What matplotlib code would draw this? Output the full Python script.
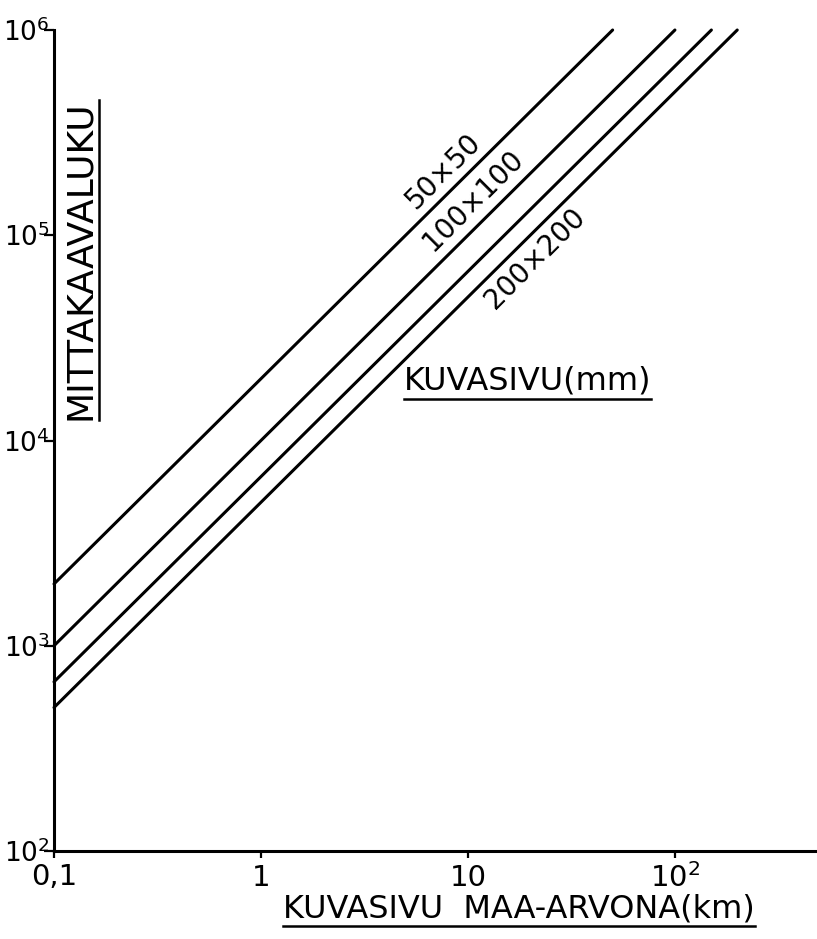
import numpy as np
import matplotlib
matplotlib.use("Agg")
import matplotlib.pyplot as plt
from matplotlib.lines import Line2D

# image side (mm) and the straight lines in log-log space (start / end points)
image_sides = [50, 100, 150, 200]
side_labels = ["50×50", "100×100", None, "200×200"]
x_start = [0.1, 0.1, 0.1, 0.1]            # ground side, km
x_end = [50, 100, 150, 200]
scale_start = [2000, 1000, 667, 500]      # map scale number
scale_end = [1e6, 1e6, 1e6, 1e6]

x_ticks = [0.1, 1, 10, 100]
x_ticklabels = ["0,1", "1", "10", "$10^2$"]
y_ticks = [1e2, 1e3, 1e4, 1e5, 1e6]
y_ticklabels = ["$10^%d$" % e for e in range(2, 7)]

plt.rcParams["font.family"] = ["DejaVu Sans"]
plt.rcParams["mathtext.default"] = "regular"
FS = 21
LW = 2.2

W, H = 817, 939
fig = plt.figure(figsize=(W / 100, H / 100), dpi=100)
ax = fig.add_axes([54 / W, (H - 851) / H, 761 / W, 821 / H])
ax.set_xscale("log")
ax.set_yscale("log")
ax.set_xlim(0.1, 475)
ax.set_ylim(1e2, 1e6)

for i in range(len(image_sides)):
    ax.plot([x_start[i], x_end[i]], [scale_start[i], scale_end[i]],
            color="black", lw=LW, solid_capstyle="round", clip_on=False)

# labels sit beside their line, rotated along it
label_x = [7.6, 10.6, None, 21]
label_off = [19, 21, None, -20]   # points, vertical
for i, lab in enumerate(side_labels):
    if lab is None:
        continue
    t = np.log10(label_x[i] / x_start[i]) / np.log10(x_end[i] / x_start[i])
    y = 10 ** (np.log10(scale_start[i]) + t * np.log10(scale_end[i] / scale_start[i]))
    ax.annotate(lab, (label_x[i], y), xytext=(0, label_off[i]),
                textcoords="offset points", ha="center", va="center",
                rotation=45, rotation_mode="anchor", fontsize=FS - 1)

ax.spines["top"].set_visible(False)
ax.spines["right"].set_visible(False)
for s in ("left", "bottom"):
    ax.spines[s].set_linewidth(LW)

ax.set_xticks(x_ticks)
ax.set_xticklabels(x_ticklabels, fontsize=FS)
ax.set_yticks(y_ticks)
ax.set_yticklabels(y_ticklabels, fontsize=19)
ax.minorticks_off()
ax.tick_params(axis="x", direction="out", length=5, width=1.6, pad=4)
ax.tick_params(axis="y", direction="out", length=7, width=1.6, pad=-4)


def underline(txt, gap=4, vertical=False):
    fig.canvas.draw()
    bb = txt.get_window_extent(renderer=fig.canvas.get_renderer())
    if vertical:
        xs = [bb.x1 + gap, bb.x1 + gap]
        ys = [bb.y0, bb.y1]
    else:
        xs = [bb.x0, bb.x1]
        ys = [bb.y0 - gap, bb.y0 - gap]
    fig.add_artist(Line2D([x / W for x in xs], [y / H for y in ys],
                          color="black", lw=1.8))


xl = fig.text(519 / W, 1 - 909 / H, "KUVASIVU  MAA-ARVONA(km)",
              ha="center", va="center", fontsize=23)
yl = fig.text(80 / W, 1 - 260 / H, "MITTAKAAVALUKU", rotation=90,
              ha="center", va="center", fontsize=26)
ml = ax.text(0.622, 0.573, "KUVASIVU(mm)", transform=ax.transAxes,
             ha="center", va="center", fontsize=23)
underline(xl, gap=1)
underline(yl, gap=2, vertical=True)
underline(ml, gap=3)

fig.savefig("out.png", dpi=100)
